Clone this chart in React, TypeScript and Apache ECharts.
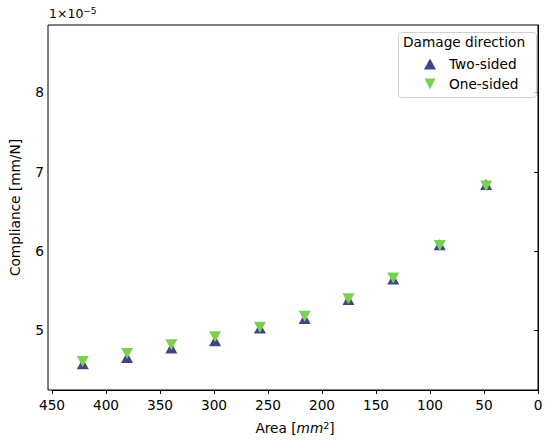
import React, { useEffect, useRef } from "react";
import * as echarts from "echarts";

const area = [421.5, 380.5, 339.5, 299, 257.5, 216, 175.5, 134, 91, 48];
const twoSided = [4.58, 4.66, 4.78, 4.87, 5.03, 5.15, 5.39, 5.65, 6.08, 6.84];
const oneSided = [4.61, 4.71, 4.82, 4.92, 5.04, 5.18, 5.4, 5.66, 6.07, 6.82];
const yTicks = [5, 6, 7, 8];
const seriesNames = ["Two-sided", "One-sided"];
const legendTitle = "Damage direction";

const FONT = "DejaVu Sans";
const FS = 13.7;
const BLUE = "#414487";
const GREEN = "#7ad151";

export default function App() {
  const ref = useRef<HTMLDivElement>(null);
  useEffect(() => {
    if (!ref.current) return;
    const chart = echarts.init(ref.current, null, { renderer: "svg" });
    const pairs = (ys: number[]) => area.map((x, i) => [x, ys[i]]);
    chart.setOption({
      animation: false,
      textStyle: { fontFamily: FONT },
      grid: { left: 48, right: 12, top: 25, bottom: 55 },
      xAxis: {
        type: "value",
        min: 0,
        max: 450,
        interval: 50,
        inverse: true,
        name: "{n|Area [}{i|mm}{s|2}{n|]}",
        nameLocation: "middle",
        nameGap: 30,
        nameTextStyle: {
          rich: {
            n: { fontFamily: FONT, fontSize: FS, color: "#000" },
            i: { fontFamily: FONT, fontSize: FS, fontStyle: "italic", color: "#000" },
            s: { fontFamily: FONT, fontSize: 9.5, color: "#000", verticalAlign: "top", padding: [0, 0, 6, 0] },
          },
        },
        axisLine: { lineStyle: { color: "#000", width: 1 } },
        axisTick: { length: 4, lineStyle: { color: "#000" } },
        axisLabel: { color: "#000", fontSize: FS, margin: 8, fontFamily: FONT },
        splitLine: { show: false },
      },
      yAxis: {
        type: "value",
        min: 4.25,
        max: 8.85,
        name: "Compliance [mm/N]",
        nameLocation: "middle",
        nameGap: 30,
        nameTextStyle: { color: "#000", fontSize: FS, fontFamily: FONT },
        axisLine: { show: true, lineStyle: { color: "#000", width: 1 } },
        axisTick: { show: true, length: 4, customValues: yTicks, lineStyle: { color: "#000" } },
        axisLabel: { color: "#000", fontSize: FS, margin: 8, customValues: yTicks, fontFamily: FONT },
        splitLine: { show: false },
      },
      legend: {
        orient: "vertical",
        left: 419,
        top: 52,
        z: 10,
        itemGap: 6,
        itemWidth: 12,
        itemHeight: 11,
        textStyle: { color: "#000", fontSize: FS, fontFamily: FONT, padding: [0, 0, 0, 8] },
        data: [
          { name: seriesNames[0], icon: "triangle", itemStyle: { color: BLUE } },
          { name: seriesNames[1], icon: "path://M0,0 L10,0 L5,10 Z", itemStyle: { color: GREEN } },
        ],
      },
      graphic: [
        {
          type: "rect",
          shape: { x: 48, y: 25, width: 490, height: 365 },
          style: { fill: "none", stroke: "#000", lineWidth: 1 },
          silent: true,
          z: 0,
        },
        {
          type: "rect",
          shape: { x: 398.5, y: 32.5, width: 138, height: 65, r: 3 },
          style: { fill: "rgba(255,255,255,0.8)", stroke: "#d0d0d0", lineWidth: 1 },
          silent: true,
          z: 5,
        },
        {
          type: "text",
          left: 403,
          top: 35,
          style: { text: legendTitle, fontSize: FS, fontFamily: FONT, fill: "#000" },
          z: 6,
        },
        {
          type: "text",
          left: 49,
          top: 6,
          style: {
            text: "{n|1×10}{s|−5}",
            rich: {
              n: { fontFamily: FONT, fontSize: 12.5, color: "#000" },
              s: { fontFamily: FONT, fontSize: 9, color: "#000", verticalAlign: "top", padding: [0, 0, 6, 0] },
            },
          },
          z: 6,
        },
      ],
      series: [
        {
          name: seriesNames[0],
          type: "scatter",
          symbol: "triangle",
          symbolSize: [12, 11],
          itemStyle: { color: BLUE, opacity: 1 },
          data: pairs(twoSided),
          z: 2,
        },
        {
          name: seriesNames[1],
          type: "scatter",
          symbol: "triangle",
          symbolRotate: 180,
          symbolSize: [12, 11],
          itemStyle: { color: GREEN, opacity: 1 },
          data: pairs(oneSided),
          z: 3,
        },
      ],
    });
    return () => chart.dispose();
  }, []);
  return (
    <div
      ref={ref}
      style={{ position: "fixed", left: 0, top: 0, width: 550, height: 445, background: "#fff" }}
    />
  );
}
